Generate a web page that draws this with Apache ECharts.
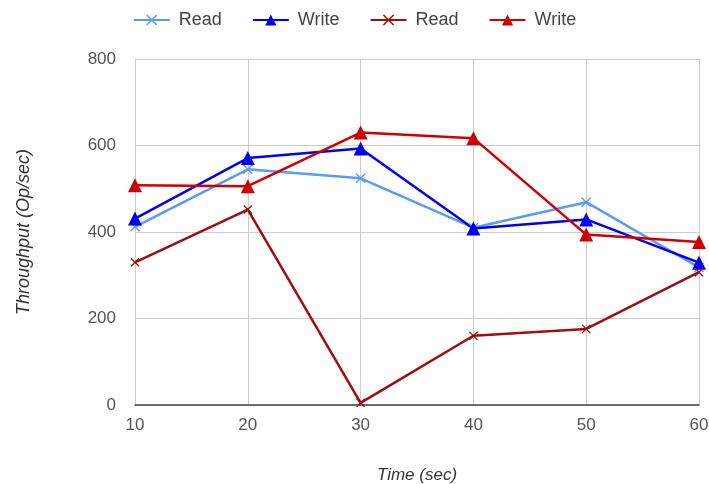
<!DOCTYPE html>
<html>
<head>
<meta charset="utf-8">
<script src="https://cdn.jsdelivr.net/npm/echarts@6/dist/echarts.min.js"></script>
<style>
  html, body { margin: 0; padding: 0; background: #fff; }
  #chart { width: 709px; height: 484px; }
</style>
</head>
<body>
<div id="chart"></div>
<script>
const times = [10, 20, 30, 40, 50, 60];
const readA = [412, 545, 524, 410, 469, 318];
const writeA = [431, 571, 593, 408, 429, 329];
const readB = [330, 452, 5, 160, 176, 307];
const writeB = [508, 506, 630, 617, 394, 377];
const yTicks = [0, 200, 400, 600, 800];

// thin "x" marker drawn as a filled outline
const crossPath = 'path://M0,1 L1,0 L5,4 L9,0 L10,1 L6,5 L10,9 L9,10 L5,6 L1,10 L0,9 L4,5 Z';
const font = 'Liberation Sans, Arial, sans-serif';

function pairs(vals) {
    return times.map((t, i) => [t, vals[i]]);
}

function lineSeries(name, vals, color, symbol, size) {
    return {
        name: name,
        type: 'line',
        data: pairs(vals),
        symbol: symbol,
        symbolSize: size,
        showAllSymbol: true,
        lineStyle: { color: color, width: 2.5 },
        itemStyle: { color: color },
        emphasis: { disabled: true }
    };
}

const chart = echarts.init(document.getElementById('chart'));
chart.setOption({
    animation: false,
    textStyle: { fontFamily: font },
    legend: {
        top: 6,
        left: 'center',
        itemGap: 30,
        itemWidth: 36,
        itemHeight: 14,
        textStyle: { fontSize: 18, color: '#444', fontFamily: font, padding: [0, 0, 0, 4] },
        data: ['Read', 'Write', 'Read ', 'Write '],
        formatter: (n) => n.trim()
    },
    grid: { left: 135, right: 10, top: 59, bottom: 79, outerBoundsMode: 'none', containLabel: false },
    xAxis: {
        type: 'value',
        min: 10,
        max: 60,
        interval: 10,
        name: 'Time (sec)',
        nameLocation: 'middle',
        nameGap: 62,
        nameTextStyle: { fontStyle: 'italic', fontSize: 17, color: '#333', fontFamily: font },
        axisLine: { show: true, lineStyle: { color: '#444', width: 1.5 } },
        axisTick: { show: false },
        axisLabel: { fontSize: 17, color: '#555', margin: 12, fontFamily: font },
        splitLine: { show: true, lineStyle: { color: '#ccc', width: 1 } }
    },
    yAxis: {
        type: 'value',
        min: 0,
        max: 800,
        interval: 200,
        name: 'Throughput (Op/sec)',
        nameLocation: 'middle',
        nameGap: 102,
        nameTextStyle: { fontStyle: 'italic', fontSize: 18, color: '#333', fontFamily: font },
        axisLine: { show: true, lineStyle: { color: '#ccc' } },
        axisTick: { show: false },
        axisLabel: {
            fontSize: 17, color: '#555', margin: 19, fontFamily: font,
            formatter: (v) => yTicks.includes(v) ? String(v) : ''
        },
        splitLine: { show: true, lineStyle: { color: '#ccc', width: 1 } }
    },
    series: [
        lineSeries('Read', readA, '#5a9cf0', crossPath, 10),
        lineSeries('Write', writeA, '#0000f5', 'triangle', 14),
        lineSeries('Read ', readB, '#a00e0e', crossPath, 9),
        lineSeries('Write ', writeB, '#d00000', 'triangle', 14)
    ]
});

window.addEventListener('resize', () => chart.resize());
</script>
</body>
</html>
